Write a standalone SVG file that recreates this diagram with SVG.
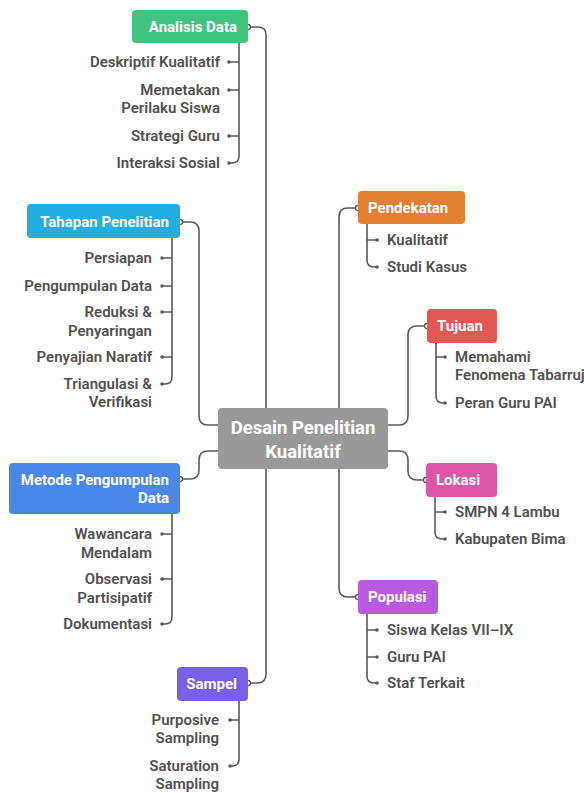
<svg xmlns="http://www.w3.org/2000/svg" width="584" height="793" viewBox="0 0 584 793">
<style>
.bg{fill:#ffffff}
.conn{fill:none;stroke:#595959;stroke-width:1.6;stroke-linecap:round}
.end{fill:#ffffff;stroke:#595959;stroke-width:1.3}
.dot{fill:#595959}
.lbl{font-family:Roboto,"Liberation Sans",sans-serif;font-size:15px;font-weight:700;fill:#ffffff}
.ctr{font-family:Roboto,"Liberation Sans",sans-serif;font-size:18.5px;font-weight:700;fill:#ffffff}
.it{font-family:Roboto,"Liberation Sans",sans-serif;font-size:15px;font-weight:600;fill:#505050}
.r{text-anchor:end}
.m{text-anchor:middle}
</style>
<rect class="bg" x="0" y="0" width="584" height="793"/>
<g id="connectors">
<path class="conn" d="M248,27 H258 Q266,27 266,35 V408"/>
<path class="conn" d="M180,222 H190 Q199,222 199,231 V416 Q199,425 208,425 H218"/>
<path class="conn" d="M218,451 H208 Q199,451 199,460 V470 Q199,479 190,479 H180"/>
<path class="conn" d="M266,469 V674 Q266,683 257,683 H248"/>
<path class="conn" d="M339,408 V217 Q339,208 348,208 H358"/>
<path class="conn" d="M388,425 H399 Q408,425 408,416 V335 Q408,326 417,326 H427"/>
<path class="conn" d="M388,451 H399 Q408,451 408,460 V471 Q408,480 417,480 H426"/>
<path class="conn" d="M339,469 V588 Q339,597 348,597 H358"/>
<circle class="end" cx="248" cy="27" r="2.5"/>
<circle class="end" cx="180" cy="222" r="2.5"/>
<circle class="end" cx="180" cy="479" r="2.5"/>
<circle class="end" cx="248" cy="683" r="2.5"/>
<circle class="end" cx="358" cy="208" r="2.5"/>
<circle class="end" cx="427" cy="326" r="2.5"/>
<circle class="end" cx="426" cy="480" r="2.5"/>
<circle class="end" cx="358" cy="597" r="2.5"/>
<path class="conn" d="M239,43 V156 Q239,163 232,163 H229 M229,62 H239 M229,90 H239 M229,136 H239"/>
<path class="conn" d="M172,238 V377 Q172,384 165,384 H162 M162,258 H172 M162,286 H172 M162,312 H172 M162,357 H172"/>
<path class="conn" d="M172,514 V617 Q172,624 165,624 H162 M162,534 H172 M162,579 H172"/>
<path class="conn" d="M239,701 V759 Q239,766 232,766 H230 M230,720 H239"/>
<path class="conn" d="M367,224 V260 Q367,267 374,267 H377 M367,240 H377"/>
<path class="conn" d="M436,343 V396 Q436,403 443,403 H445 M436,357 H445"/>
<path class="conn" d="M435,497 V532 Q435,539 442,539 H445 M435,512 H445"/>
<path class="conn" d="M367,614 V676 Q367,683 374,683 H377 M367,630 H377 M367,657 H377"/>
<g class="dots">
<circle class="dot" cx="229" cy="62" r="1.8"/><circle class="dot" cx="229" cy="90" r="1.8"/><circle class="dot" cx="229" cy="136" r="1.8"/><circle class="dot" cx="229" cy="163" r="1.8"/>
<circle class="dot" cx="162" cy="258" r="1.8"/><circle class="dot" cx="162" cy="286" r="1.8"/><circle class="dot" cx="162" cy="312" r="1.8"/><circle class="dot" cx="162" cy="357" r="1.8"/><circle class="dot" cx="162" cy="384" r="1.8"/>
<circle class="dot" cx="162" cy="534" r="1.8"/><circle class="dot" cx="162" cy="579" r="1.8"/><circle class="dot" cx="162" cy="624" r="1.8"/>
<circle class="dot" cx="230" cy="720" r="1.8"/><circle class="dot" cx="230" cy="766" r="1.8"/>
<circle class="dot" cx="377" cy="240" r="1.8"/><circle class="dot" cx="377" cy="267" r="1.8"/>
<circle class="dot" cx="445" cy="357" r="1.8"/><circle class="dot" cx="445" cy="403" r="1.8"/>
<circle class="dot" cx="445" cy="512" r="1.8"/><circle class="dot" cx="445" cy="539" r="1.8"/>
<circle class="dot" cx="377" cy="630" r="1.8"/><circle class="dot" cx="377" cy="657" r="1.8"/><circle class="dot" cx="377" cy="683" r="1.8"/>
</g>
</g>
<g id="center">
<rect x="218" y="408" width="170" height="61" rx="4" fill="#999999"/>
<text class="ctr m" x="303" y="434">Desain Penelitian</text>
<text class="ctr m" x="303" y="458">Kualitatif</text>
</g>
<g id="analisis">
<rect x="132" y="10" width="116" height="33" rx="4" fill="#3ec47f"/>
<text class="lbl r" x="237" y="32">Analisis Data</text>
<text class="it r" x="220" y="67">Deskriptif Kualitatif</text>
<text class="it r" x="220" y="95">Memetakan</text>
<text class="it r" x="220" y="113">Perilaku Siswa</text>
<text class="it r" x="220" y="141">Strategi Guru</text>
<text class="it r" x="220" y="168">Interaksi Sosial</text>
</g>
<g id="tahapan">
<rect x="27" y="204" width="153" height="34" rx="4" fill="#22aee0"/>
<text class="lbl r" x="169" y="227">Tahapan Penelitian</text>
<text class="it r" x="152" y="263">Persiapan</text>
<text class="it r" x="152" y="291">Pengumpulan Data</text>
<text class="it r" x="152" y="317">Reduksi &amp;</text>
<text class="it r" x="152" y="336">Penyaringan</text>
<text class="it r" x="152" y="362">Penyajian Naratif</text>
<text class="it r" x="152" y="389">Triangulasi &amp;</text>
<text class="it r" x="152" y="407">Verifikasi</text>
</g>
<g id="metode">
<rect x="9" y="463" width="171" height="51" rx="4" fill="#4a88e8"/>
<text class="lbl r" x="169" y="485">Metode Pengumpulan</text>
<text class="lbl r" x="169" y="503">Data</text>
<text class="it r" x="152" y="539">Wawancara</text>
<text class="it r" x="152" y="558">Mendalam</text>
<text class="it r" x="152" y="584">Observasi</text>
<text class="it r" x="152" y="603">Partisipatif</text>
<text class="it r" x="152" y="629">Dokumentasi</text>
</g>
<g id="sampel">
<rect x="177" y="667" width="71" height="34" rx="4" fill="#7a5fe8"/>
<text class="lbl r" x="237" y="689">Sampel</text>
<text class="it r" x="219" y="725">Purposive</text>
<text class="it r" x="219" y="743">Sampling</text>
<text class="it r" x="219" y="771">Saturation</text>
<text class="it r" x="219" y="789">Sampling</text>
</g>
<g id="pendekatan">
<rect x="358" y="191" width="107" height="33" rx="4" fill="#e08030"/>
<text class="lbl" x="368" y="213">Pendekatan</text>
<text class="it" x="387" y="245">Kualitatif</text>
<text class="it" x="387" y="272">Studi Kasus</text>
</g>
<g id="tujuan">
<rect x="427" y="309" width="70" height="34" rx="4" fill="#e35757"/>
<text class="lbl" x="437" y="331">Tujuan</text>
<text class="it" x="455" y="362">Memahami</text>
<text class="it" x="455" y="380">Fenomena Tabarruj</text>
<text class="it" x="455" y="408">Peran Guru PAI</text>
</g>
<g id="lokasi">
<rect x="426" y="463" width="71" height="34" rx="4" fill="#dd55a6"/>
<text class="lbl" x="436" y="485">Lokasi</text>
<text class="it" x="455" y="517">SMPN 4 Lambu</text>
<text class="it" x="455" y="544">Kabupaten Bima</text>
</g>
<g id="populasi">
<rect x="358" y="580" width="80" height="34" rx="4" fill="#b95ae0"/>
<text class="lbl" x="368" y="602">Populasi</text>
<text class="it" x="387" y="635">Siswa Kelas VII–IX</text>
<text class="it" x="387" y="662">Guru PAI</text>
<text class="it" x="387" y="688">Staf Terkait</text>
</g>
</svg>
